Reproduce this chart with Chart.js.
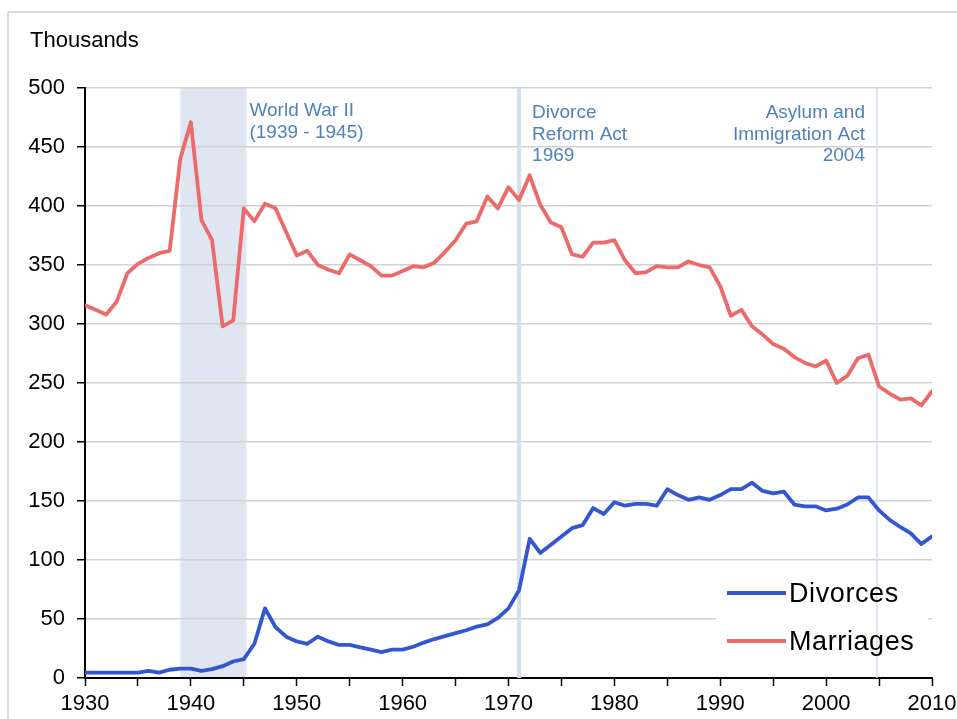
<!DOCTYPE html>
<html>
<head>
<meta charset="utf-8">
<script src="https://cdn.jsdelivr.net/npm/chart.js@4/dist/chart.umd.min.js"></script>
<style>
  html, body { margin: 0; padding: 0; background: #fff; }
  canvas { display: block; }
</style>
</head>
<body>
<canvas id="c" width="957" height="719"></canvas>
<script>
const years = [];
for (let y = 1930; y <= 2010; y++) years.push(y);

const marriages = [
  316, 312, 308, 319, 343, 351, 356, 360, 362, 440,
  471, 388, 371, 298, 303, 398, 387, 402, 398, 378,
  358, 362, 350, 346, 343, 359, 354, 349, 341, 341,
  345, 349, 348, 352, 361, 371, 385, 387, 408, 398,
  416, 405, 426, 401, 386, 382, 359, 357, 369, 369,
  371, 354, 343, 344, 349, 348, 348, 353, 350, 348,
  332, 307, 312, 298, 291, 283, 279, 272, 267, 264,
  269, 250, 256, 271, 274, 247, 241, 236, 237, 231,
  243
];

const divorces = [
  4.5, 4.5, 4.5, 4.5, 4.5, 4.5, 6, 4.5, 7, 8,
  8, 6, 7.5, 10, 14, 16, 29, 59, 43, 35,
  31, 29, 35, 31, 28, 28, 26, 24, 22, 24,
  24, 26.5, 30, 33, 35.5, 38, 40.5, 43.5, 45.5, 51,
  59, 74.5, 118, 106, 113, 120, 127, 129.5, 144, 139,
  149, 146, 147.5, 147.5, 146, 160, 155, 151, 153, 151,
  155, 160, 160, 165.5, 158.5, 156.5, 158, 147, 145.5, 145.5,
  142, 143.5, 147, 153, 153, 142, 134, 128, 122.5, 113.5,
  120
];

const seriesNames = ['Divorces', 'Marriages'];
const seriesColors = ['#3456d1', '#ec6a6a'];
const yTicks = [0, 50, 100, 150, 200, 250, 300, 350, 400, 450, 500];
const xTicks = [1930, 1940, 1950, 1960, 1970, 1980, 1990, 2000, 2010];

const warBand = [1939, 1945.25];
const markerYears = [1971, 2004.8];
const warLabel = ['World War II', '(1939 - 1945)'];
const divorceActLabel = ['Divorce', 'Reform Act', '1969'];
const asylumActLabel = ['Asylum and', 'Immigration Act', '2004'];
const yTitle = 'Thousands';

const FONT = "'Liberation Sans', Arial, sans-serif";
const annColor = '#4f81bd';

const decorPlugin = {
  id: 'decor',
  beforeDraw(chart) {
    const { ctx, chartArea: a, scales: { x } } = chart;
    ctx.save();
    ctx.strokeStyle = '#cfcfcf';
    ctx.lineWidth = 1.5;
    ctx.beginPath();
    ctx.moveTo(8, chart.height + 2);
    ctx.lineTo(8, 12);
    ctx.lineTo(chart.width + 2, 12);
    ctx.stroke();
    const x0 = x.getPixelForValue(warBand[0]);
    const x1 = x.getPixelForValue(warBand[1]);
    ctx.fillStyle = '#dfe6f1';
    ctx.fillRect(x0, a.top, x1 - x0, a.bottom - a.top);
    ctx.fillStyle = '#000';
    ctx.font = '22px ' + FONT;
    ctx.textBaseline = 'middle';
    ctx.textAlign = 'left';
    ctx.fillText(yTitle, 30, 41);
    ctx.restore();
  },
  beforeDatasetsDraw(chart) {
    const { ctx, chartArea: a, scales: { x } } = chart;
    ctx.save();
    ctx.fillStyle = '#fff';
    ctx.fillRect(716, 568, 212, 104);
    ctx.strokeStyle = '#d3deee';
    ctx.lineWidth = 4;
    let px = x.getPixelForValue(markerYears[0]);
    ctx.beginPath(); ctx.moveTo(px, a.top); ctx.lineTo(px, a.bottom); ctx.stroke();
    ctx.lineWidth = 1.5;
    px = x.getPixelForValue(markerYears[1]);
    ctx.beginPath(); ctx.moveTo(px, a.top); ctx.lineTo(px, a.bottom); ctx.stroke();
    ctx.restore();
  },
  afterDatasetsDraw(chart) {
    const { ctx, scales: { x } } = chart;
    ctx.save();
    ctx.fillStyle = annColor;
    ctx.font = '19px ' + FONT;
    ctx.textBaseline = 'middle';
    ctx.textAlign = 'left';
    let ax = x.getPixelForValue(warBand[1]) + 3;
    warLabel.forEach((t, i) => ctx.fillText(t, ax, 111 + i * 21.5));
    ax = x.getPixelForValue(markerYears[0]) + 13;
    divorceActLabel.forEach((t, i) => ctx.fillText(t, ax, 113 + i * 21.5));
    ctx.textAlign = 'right';
    ax = x.getPixelForValue(markerYears[1]) - 12;
    asylumActLabel.forEach((t, i) => ctx.fillText(t, ax, 113 + i * 21.5));

    ctx.textAlign = 'left';
    ctx.font = '27px ' + FONT;
    try { ctx.letterSpacing = '0.6px'; } catch (e) {}
    const rows = [593, 641];
    seriesNames.forEach((n, i) => {
      ctx.strokeStyle = seriesColors[i];
      ctx.lineWidth = 4;
      ctx.beginPath();
      ctx.moveTo(727, rows[i]);
      ctx.lineTo(786, rows[i]);
      ctx.stroke();
      ctx.fillStyle = '#000';
      ctx.fillText(n, 789, rows[i] + 2);
    });
    ctx.restore();
  }
};

const mk = arr => years.map((yr, i) => ({ x: yr, y: arr[i] }));

new Chart(document.getElementById('c'), {
  type: 'line',
  data: {
    datasets: [
      { label: seriesNames[0], data: mk(divorces), borderColor: seriesColors[0], borderWidth: 3.8, pointRadius: 0, tension: 0, borderJoinStyle: 'round', borderCapStyle: 'round' },
      { label: seriesNames[1], data: mk(marriages), borderColor: seriesColors[1], borderWidth: 3.8, pointRadius: 0, tension: 0, borderJoinStyle: 'round', borderCapStyle: 'round' }
    ]
  },
  options: {
    responsive: false,
    animation: false,
    devicePixelRatio: 1,
    layout: { padding: { top: 88, right: 25, bottom: 0, left: 0 } },
    plugins: { legend: { display: false }, tooltip: { enabled: false } },
    scales: {
      x: {
        type: 'linear',
        min: 1930, max: 2010,
        afterBuildTicks(s) { s.ticks = []; for (let v = 1930; v <= 2010; v += 5) s.ticks.push({ value: v }); },
        afterFit(s) { s.height = 41; s.paddingLeft = 0; s.paddingRight = 0; },
        grid: { drawOnChartArea: false, drawTicks: true, tickLength: 8, tickColor: '#000', tickWidth: 1.5 },
        border: { color: '#000', width: 2 },
        ticks: {
          autoSkip: false, maxRotation: 0, padding: 5, color: '#000',
          font: { family: FONT, size: 22 },
          callback: v => xTicks.includes(v) ? String(v) : ''
        }
      },
      y: {
        min: 0, max: 500,
        afterBuildTicks(s) { s.ticks = yTicks.map(v => ({ value: v })); },
        afterFit(s) { s.width = 85; s.paddingTop = 0; s.paddingBottom = 0; },
        grid: { color: '#d2d2d2', lineWidth: 1.5, tickLength: 8, tickColor: '#000', tickWidth: 1.5 },
        border: { color: '#000', width: 2 },
        ticks: { padding: 12, color: '#000', font: { family: FONT, size: 22 }, callback: v => String(v) }
      }
    }
  },
  plugins: [decorPlugin]
});
</script>
</body>
</html>
